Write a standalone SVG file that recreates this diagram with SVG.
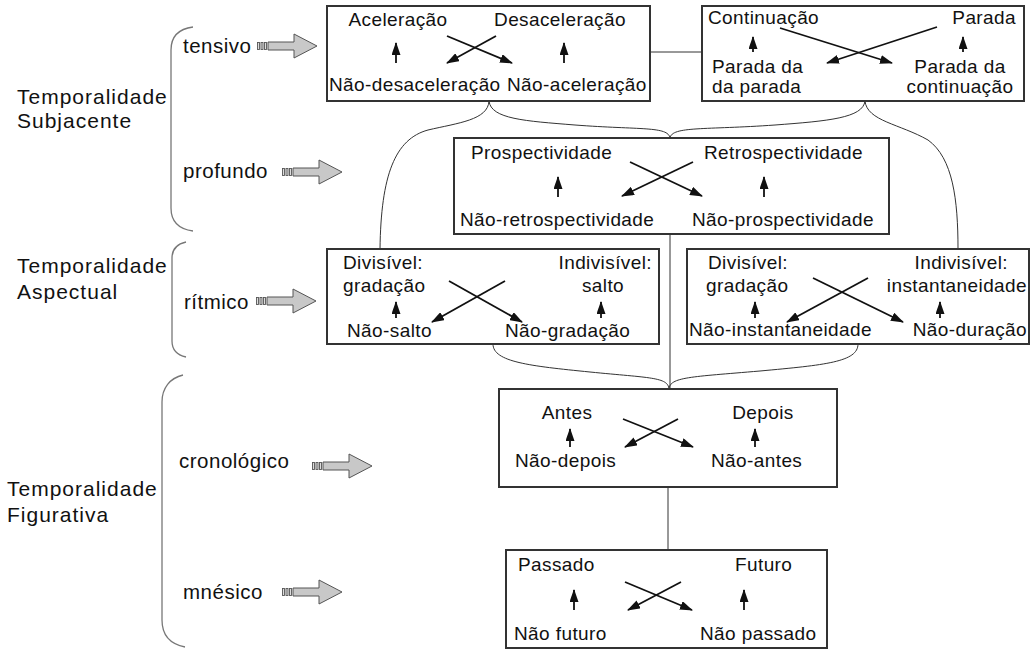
<svg xmlns="http://www.w3.org/2000/svg" width="1031" height="650" viewBox="0 0 1031 650">
<style>
.lbl{font-family:"Liberation Sans",Arial,sans-serif;font-size:21px;letter-spacing:1px;fill:#111}
.sl{font-family:"Liberation Sans",Arial,sans-serif;font-size:20.5px;letter-spacing:0.5px;fill:#111}
.t{font-family:"Liberation Sans",Arial,sans-serif;font-size:19px;letter-spacing:0.4px;fill:#111}
.m{text-anchor:middle}
.e{text-anchor:end}
.box{fill:#fff;stroke:#333;stroke-width:2}
.brace{fill:none;stroke:#777;stroke-width:1.3}
.con{fill:none;stroke:#333;stroke-width:1}
.ar{stroke:#111;stroke-width:1.8;fill:none;marker-end:url(#ah)}
</style>
<defs>
<marker id="ah" markerUnits="userSpaceOnUse" markerWidth="13" markerHeight="9" refX="12" refY="4.5" orient="auto">
<path d="M0,0 L13,4.5 L0,9 Z" fill="#111"/>
</marker>
<g id="barrow">
<rect x="0.5" y="-3.5" width="2" height="7" fill="#ddd" stroke="#555" stroke-width="0.9"/>
<rect x="4" y="-3.5" width="2" height="7" fill="#ddd" stroke="#555" stroke-width="0.9"/>
<rect x="7.5" y="-3.5" width="2" height="7" fill="#ddd" stroke="#555" stroke-width="0.9"/>
<path d="M11,-4 L37,-4 L37,-12 L60,0 L37,12 L37,4 L11,4 Z" fill="#c8c8c8" stroke="#555" stroke-width="1"/>
</g>
</defs>

<g id="braces">
<path class="brace" d="M193,27 C178,29 171,37 171,50 L171,208 C171,221 178,229 193,231"/>
<path class="brace" d="M186,242 C177,244 172,249 172,258 L172,341 C172,350 177,355 186,357"/>
<path class="brace" d="M183,375 C170,378 162,388 162,402 L162,620 C162,635 170,644 185,647"/>
</g>

<g id="labels">
<text class="lbl" x="17" y="104">Temporalidade</text>
<text class="lbl" x="17" y="128">Subjacente</text>
<text class="lbl" x="17" y="273">Temporalidade</text>
<text class="lbl" x="17" y="299">Aspectual</text>
<text class="lbl" x="7" y="496">Temporalidade</text>
<text class="lbl" x="7" y="522">Figurativa</text>
</g>

<g id="tensivo"><text class="sl" x="183" y="53">tensivo</text><use href="#barrow" x="257" y="46"/></g>
<g id="profundo"><text class="sl" x="183" y="178">profundo</text><use href="#barrow" x="282" y="172"/></g>
<g id="ritmico"><text class="sl" x="184" y="309">rítmico</text><use href="#barrow" x="256" y="301"/></g>
<g id="cronologico"><text class="sl" x="179" y="468">cronológico</text><use href="#barrow" x="312" y="466"/></g>
<g id="mnesico"><text class="sl" x="183" y="599">mnésico</text><use href="#barrow" x="282" y="592"/></g>

<g id="connectors">
<line class="con" x1="650" y1="52" x2="702" y2="52"/>
<path class="con" d="M489,101 C488,120 458,123 428,130 C395,139 381,175 380,249"/>
<path class="con" d="M489,101 C491,119 525,121 575,125 C640,130 668,126 670,138"/>
<path class="con" d="M865,101 C863,118 828,121 775,125 C705,130 672,126 670,138"/>
<path class="con" d="M865,101 C867,121 900,124 928,140 C953,158 958,200 958,249"/>
<line class="con" x1="670" y1="234" x2="670" y2="389"/>
<path class="con" d="M493,344 C493,362 530,366 590,372 C650,378 668,377 669,389"/>
<path class="con" d="M858,344 C858,362 825,365 760,371 C690,377 670,377 669,389"/>
<line class="con" x1="668" y1="487" x2="668" y2="550"/>
</g>

<g id="b1">
<rect class="box" x="327" y="6" width="323" height="95"/>
<text class="t m" x="398" y="26">Aceleração</text>
<text class="t m" x="560" y="26">Desaceleração</text>
<line class="ar" x1="396" y1="63" x2="396" y2="43"/>
<line class="ar" x1="564" y1="63" x2="564" y2="43"/>
<line class="ar" x1="447" y1="36" x2="512" y2="63"/>
<line class="ar" x1="496" y1="36" x2="447" y2="63"/>
<text class="t" x="329" y="91">Não-desaceleração</text>
<text class="t" x="507" y="91">Não-aceleração</text>
</g>

<g id="b2">
<rect class="box" x="702" y="6" width="322" height="95"/>
<text class="t" x="708" y="24">Continuação</text>
<text class="t e" x="1016" y="24">Parada</text>
<line class="ar" x1="753" y1="52" x2="753" y2="37"/>
<line class="ar" x1="963" y1="52" x2="963" y2="37"/>
<line class="ar" x1="780" y1="28" x2="892" y2="63"/>
<line class="ar" x1="937" y1="27" x2="827" y2="63"/>
<text class="t" x="712" y="73">Parada da</text>
<text class="t" x="712" y="93">da parada</text>
<text class="t m" x="960" y="73">Parada da</text>
<text class="t m" x="960" y="93">continuação</text>
</g>

<g id="b3">
<rect class="box" x="454" y="138" width="435" height="96"/>
<text class="t" x="471" y="159">Prospectividade</text>
<text class="t" x="704" y="159">Retrospectividade</text>
<line class="ar" x1="558" y1="197" x2="558" y2="177"/>
<line class="ar" x1="764" y1="197" x2="764" y2="177"/>
<line class="ar" x1="630" y1="162" x2="702" y2="196"/>
<line class="ar" x1="693" y1="162" x2="622" y2="196"/>
<text class="t" x="460" y="226">Não-retrospectividade</text>
<text class="t" x="692" y="226">Não-prospectividade</text>
</g>

<g id="b4">
<rect class="box" x="327" y="249" width="332" height="95"/>
<text class="t" x="343" y="269">Divisível:</text>
<text class="t" x="343" y="292">gradação</text>
<text class="t e" x="652" y="269">Indivisível:</text>
<text class="t m" x="603" y="292">salto</text>
<line class="ar" x1="396" y1="318" x2="396" y2="302"/>
<line class="ar" x1="601" y1="318" x2="601" y2="302"/>
<line class="ar" x1="449" y1="281" x2="522" y2="322"/>
<line class="ar" x1="505" y1="281" x2="432" y2="322"/>
<text class="t" x="347" y="337">Não-salto</text>
<text class="t" x="505" y="337">Não-gradação</text>
</g>

<g id="b5">
<rect class="box" x="687" y="249" width="342" height="95"/>
<text class="t" x="708" y="269">Divisível:</text>
<text class="t" x="706" y="292">gradação</text>
<text class="t e" x="1008" y="269">Indivisível:</text>
<text class="t e" x="1027" y="292">instantaneidade</text>
<line class="ar" x1="755" y1="318" x2="755" y2="302"/>
<line class="ar" x1="940" y1="318" x2="940" y2="302"/>
<line class="ar" x1="813" y1="278" x2="903" y2="322"/>
<line class="ar" x1="868" y1="278" x2="787" y2="322"/>
<text class="t" x="689" y="336">Não-instantaneidade</text>
<text class="t e" x="1027" y="336">Não-duração</text>
</g>

<g id="b6">
<rect class="box" x="499" y="389" width="338" height="98"/>
<text class="t m" x="567" y="419">Antes</text>
<text class="t m" x="763" y="419">Depois</text>
<line class="ar" x1="570" y1="447" x2="570" y2="429"/>
<line class="ar" x1="755" y1="447" x2="755" y2="429"/>
<line class="ar" x1="623" y1="419" x2="693" y2="447"/>
<line class="ar" x1="678" y1="419" x2="625" y2="447"/>
<text class="t" x="515" y="467">Não-depois</text>
<text class="t" x="711" y="467">Não-antes</text>
</g>

<g id="b7">
<rect class="box" x="506" y="550" width="321" height="98"/>
<text class="t" x="518" y="571">Passado</text>
<text class="t" x="735" y="571">Futuro</text>
<line class="ar" x1="574" y1="610" x2="574" y2="590"/>
<line class="ar" x1="744" y1="610" x2="744" y2="590"/>
<line class="ar" x1="625" y1="582" x2="692" y2="610"/>
<line class="ar" x1="681" y1="582" x2="628" y2="610"/>
<text class="t" x="514" y="640">Não futuro</text>
<text class="t" x="700" y="640">Não passado</text>
</g>
</svg>
